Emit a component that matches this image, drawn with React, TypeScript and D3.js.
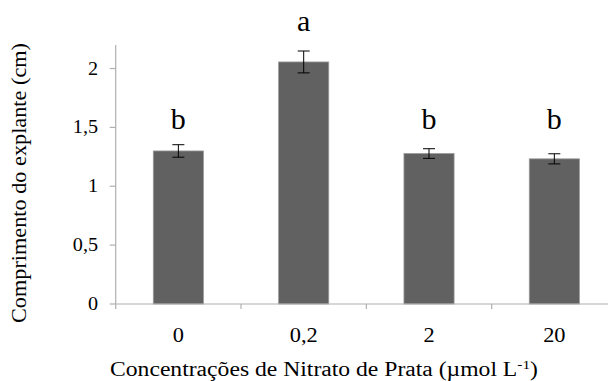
import React, { useEffect } from "react";
import * as d3 from "d3";

const categories = ["0", "0,2", "2", "20"];
const means = [1.3, 2.056, 1.278, 1.233];
const errors = [0.053, 0.093, 0.041, 0.043];
const letters = ["b", "a", "b", "b"];
const letterLevels = [1.483, 2.315, 1.483, 1.483];
const yTicks = [0, 0.5, 1, 1.5, 2];
const yTickLabels = ["0", "0,5", "1", "1,5", "2"];

const W = 608;
const H = 381;
const left = 115.7;
const right = 617;
const top = 45;
const bottom = 304;

export default function App() {
  useEffect(() => {
    document.body.style.margin = "0";
  }, []);

  const x = d3.scaleBand().domain(categories).range([left, right]).paddingInner(0.6).paddingOuter(0.3);
  const y = d3.scaleLinear().domain([0, 2.2]).range([bottom, top]);
  const step = x.step();
  const bw = x.bandwidth();

  return (
    <svg width={W} height={H} style={{ display: "block", background: "#fff", fontFamily: "Liberation Serif" }}>
      {categories.map((c, i) => (
        <rect
          key={c}
          x={x(c)}
          y={y(means[i])}
          width={bw}
          height={y(0) - y(means[i])}
          fill="#616161"
          stroke="#9a9a9a"
          strokeWidth={0.8}
        />
      ))}
      <line x1={left} x2={W} y1={bottom} y2={bottom} stroke="#b0b0b0" strokeWidth={1.2} />
      <line x1={left} x2={left} y1={top} y2={bottom + 5} stroke="#b0b0b0" strokeWidth={1.2} />
      {yTicks.map((t, i) => (
        <g key={t}>
          <line x1={left - 6} x2={left} y1={y(t)} y2={y(t)} stroke="#b0b0b0" strokeWidth={1.2} />
          <text
            transform={`translate(98,${y(t) + 6}) scale(1.12,1)`}
            textAnchor="end"
            fontSize={18}
            fill="#000"
          >
            {yTickLabels[i]}
          </text>
        </g>
      ))}
      {categories.map((c, i) => (
        <line
          key={"xt" + c}
          x1={left + step * (i + 1)}
          x2={left + step * (i + 1)}
          y1={bottom}
          y2={bottom + 5}
          stroke="#b0b0b0"
          strokeWidth={1.2}
        />
      ))}
      {categories.map((c) => (
        <text
          key={"xl" + c}
          transform={`translate(${x(c) + bw / 2},341.5) scale(1.12,1)`}
          textAnchor="middle"
          fontSize={20}
          fill="#000"
        >
          {c}
        </text>
      ))}
      {categories.map((c, i) => {
        const cx = x(c) + bw / 2;
        const y1 = y(means[i] + errors[i]);
        const y2 = y(means[i] - errors[i]);
        return (
          <g key={"e" + c} stroke="#000" strokeWidth={1}>
            <line x1={cx} x2={cx} y1={y1} y2={y2} />
            <line x1={cx - 6} x2={cx + 6} y1={y1} y2={y1} />
            <line x1={cx - 6} x2={cx + 6} y1={y2} y2={y2} />
          </g>
        );
      })}
      {categories.map((c, i) => (
        <text key={"l" + c} x={x(c) + bw / 2} y={y(letterLevels[i])} textAnchor="middle" fontSize={30} fill="#000">
          {letters[i]}
        </text>
      ))}
      <text
        transform="translate(26,183) rotate(-90)"
        textAnchor="middle"
        fontSize={20}
        fill="#000"
        textLength={280}
        lengthAdjust="spacingAndGlyphs"
      >
        Comprimento do explante (cm)
      </text>
      <text x={324} y={376} textAnchor="middle" fontSize={20} fill="#000" textLength={428} lengthAdjust="spacingAndGlyphs">
        Concentrações de Nitrato de Prata (µmol L
        <tspan dy={-7} fontSize={13}>-1</tspan>
        <tspan dy={7}>)</tspan>
      </text>
    </svg>
  );
}
